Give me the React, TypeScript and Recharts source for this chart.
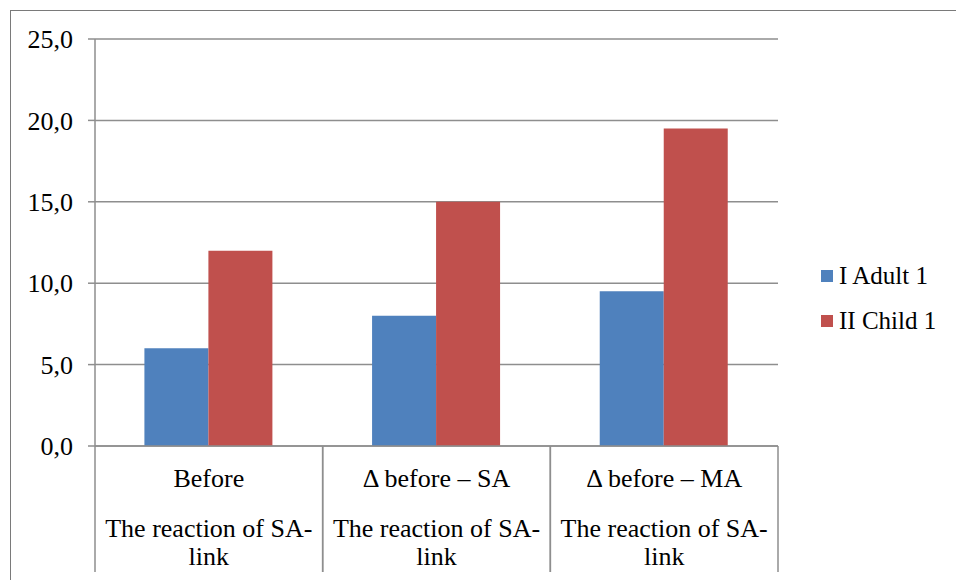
import { BarChart, Bar, XAxis, YAxis, CartesianGrid, Legend } from "recharts";

const categories = ["Before", "Δ before – SA", "Δ before – MA"];
const groupLabel = ["The reaction of SA-", "link"];
const adult = [6.0, 8.0, 9.5];
const child = [12.0, 15.0, 19.5];
const yTicks = [0, 5, 10, 15, 20, 25];
const seriesNames = ["I Adult 1", "II Child 1"];

const data = categories.map((c, i) => ({ name: c, adult: adult[i], child: child[i] }));

const FONT = "'Liberation Serif', 'Times New Roman', serif";
const GRID = "#8e8e8e";
const PLOT_W = 683;
const BAND = PLOT_W / categories.length;

function CategoryTick(props: any) {
  const { x, y, payload } = props;
  const left = x - BAND / 2;
  const right = x + BAND / 2;
  return (
    <g>
      <line x1={left} y1={y} x2={left} y2={y + 126} stroke={GRID} strokeWidth={1.5} />
      <line x1={right} y1={y} x2={right} y2={y + 126} stroke={GRID} strokeWidth={1.5} />
      <text x={x} y={y + 41} textAnchor="middle" style={{ fontFamily: FONT }} fontSize={26} fill="#000">
        {payload.value}
      </text>
      <text x={x} y={y + 91} textAnchor="middle" style={{ fontFamily: FONT }} fontSize={26} fill="#000">
        {groupLabel[0]}
      </text>
      <text x={x} y={y + 119} textAnchor="middle" style={{ fontFamily: FONT }} fontSize={26} fill="#000">
        {groupLabel[1]}
      </text>
    </g>
  );
}

function LegendBox() {
  const colors = ["#4F81BD", "#C0504D"];
  return (
    <div style={{ fontFamily: FONT, fontSize: 25, color: "#000" }}>
      {seriesNames.map((n, i) => (
        <div key={n} style={{ display: "flex", alignItems: "center", height: 45.5 }}>
          <span style={{ width: 12, height: 12, background: colors[i], marginRight: 6, display: "inline-block" }} />
          <span>{n}</span>
        </div>
      ))}
    </div>
  );
}

export default function App() {
  return (
    <div style={{ position: "relative", width: 956, height: 580, overflow: "hidden", background: "#fff", fontFamily: FONT }}>
      <style>{`body{margin:0}`}</style>
      <div
        style={{
          position: "absolute",
          left: 10,
          top: 10,
          width: 1200,
          height: 1200,
          borderLeft: "1.5px solid #7a7a7a",
          borderTop: "1.5px solid #7a7a7a",
        }}
      />
      <div style={{ position: "absolute", left: 0, top: 0 }}>
        <BarChart
          width={956}
          height={580}
          data={data}
          margin={{ top: 39, right: 178, bottom: 0, left: 0 }}
          barCategoryGap="21.7%"
          barGap={0}
          style={{ fontFamily: FONT }}
        >
          <CartesianGrid vertical={false} stroke={GRID} strokeWidth={1.5} />
          <XAxis
            dataKey="name"
            height={134}
            axisLine={{ stroke: GRID, strokeWidth: 1.5 }}
            tickLine={false}
            tickSize={0}
            tickMargin={0}
            tick={<CategoryTick />}
            interval={0}
          />
          <YAxis
            width={95}
            domain={[0, 25]}
            ticks={yTicks}
            interval={0}
            axisLine={{ stroke: GRID, strokeWidth: 1.5 }}
            tickLine={{ stroke: GRID, strokeWidth: 1.5 }}
            tickSize={7}
            tickMargin={15}
            tickFormatter={(v: number) => v.toFixed(1).replace(".", ",")}
            tick={{ fontSize: 26, fill: "#000", style: { fontFamily: FONT } }}
          />
          <Legend
            layout="horizontal"
            align="center"
            verticalAlign="middle"
            content={<LegendBox />}
            wrapperStyle={{ left: 821, top: 253, width: 135 }}
          />
          <Bar dataKey="adult" fill="#4F81BD" isAnimationActive={false} />
          <Bar dataKey="child" fill="#C0504D" isAnimationActive={false} />
        </BarChart>
      </div>
    </div>
  );
}
